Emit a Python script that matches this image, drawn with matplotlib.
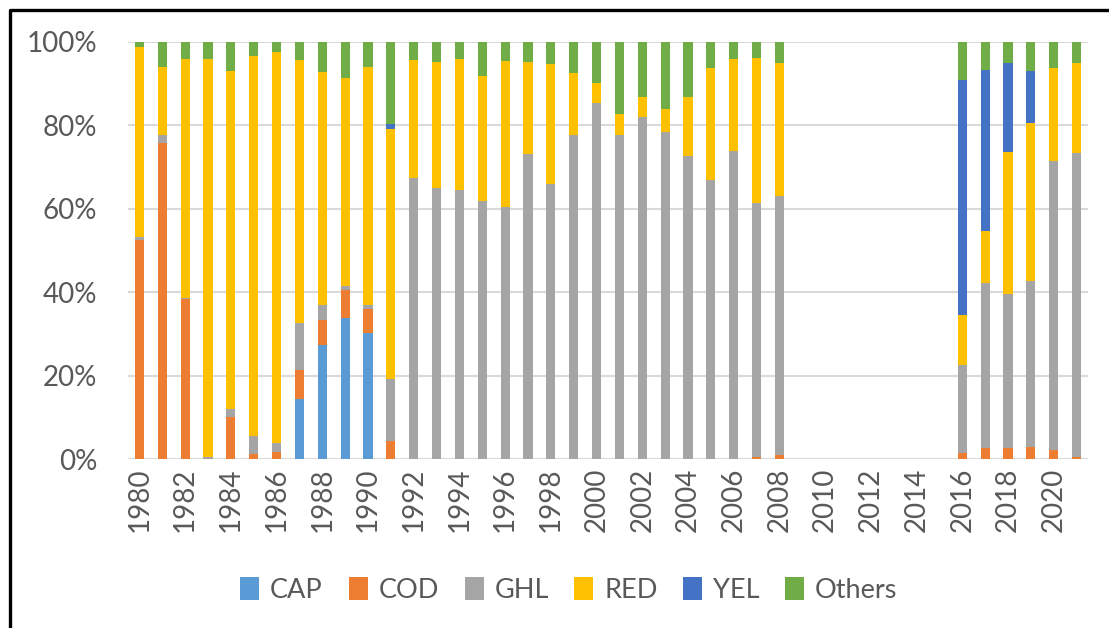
import matplotlib.pyplot as plt
from matplotlib.lines import Line2D
import numpy as np

years = list(range(1980, 2022))

# share of catch per species (%), years 2009-2015 have no data
cap = [0, 0, 0, 0, 0, 0, 0, 14.4, 27.3, 33.8, 30.2, 0,
       0, 0, 0, 0, 0, 0, 0, 0, 0, 0, 0, 0, 0, 0, 0, 0, 0,
       0, 0, 0, 0, 0, 0, 0,
       0, 0, 0, 0, 0, 0]
cod = [52.6, 75.8, 38.4, 0, 10.0, 1.2, 1.6, 6.9, 6.0, 6.7, 5.7, 4.2,
       0, 0, 0, 0, 0, 0, 0, 0, 0, 0, 0, 0, 0, 0, 0, 0.4, 1.0,
       0, 0, 0, 0, 0, 0, 0,
       1.4, 2.6, 2.6, 2.9, 2.1, 0.4]
ghl = [0.6, 2.0, 0.1, 0.4, 2.1, 4.2, 2.2, 11.3, 3.6, 1.1, 1.0, 15.0,
       67.3, 64.9, 64.6, 61.8, 60.4, 73.1, 66.0, 77.7, 85.4, 77.6, 82.0, 78.3,
       72.7, 66.9, 73.8, 60.9, 62.0,
       0, 0, 0, 0, 0, 0, 0,
       21.2, 39.5, 37.0, 39.7, 69.3, 73.1]
red = [45.5, 16.3, 57.4, 95.5, 81.0, 91.3, 93.7, 63.2, 56.0, 49.8, 57.2, 60.0,
       28.3, 30.2, 31.4, 30.1, 35.1, 22.2, 28.7, 14.9, 4.8, 5.2, 4.7, 5.7,
       14.0, 26.9, 22.2, 34.9, 32.0,
       0, 0, 0, 0, 0, 0, 0,
       11.9, 12.5, 34.0, 37.9, 22.3, 21.4]
yel = [0, 0, 0, 0, 0, 0, 0, 0, 0, 0, 0, 1.2,
       0, 0, 0, 0, 0, 0, 0, 0, 0, 0, 0, 0, 0, 0, 0, 0, 0,
       0, 0, 0, 0, 0, 0, 0,
       56.3, 38.6, 21.4, 12.5, 0, 0]
others = [1.3, 5.9, 4.1, 4.1, 6.9, 3.3, 2.5, 4.2, 7.1, 8.6, 5.9, 19.6,
          4.4, 4.9, 4.0, 8.1, 4.5, 4.7, 5.3, 7.4, 9.8, 17.2, 13.3, 16.0,
          13.3, 6.2, 4.0, 3.8, 5.0,
          0, 0, 0, 0, 0, 0, 0,
          9.2, 6.8, 5.0, 7.0, 6.3, 5.1]

series = [("CAP", cap, "#5B9BD5"), ("COD", cod, "#ED7D31"),
          ("GHL", ghl, "#A5A5A5"), ("RED", red, "#FFC000"),
          ("YEL", yel, "#4472C4"), ("Others", others, "#70AD47")]

plt.rcParams['font.family'] = ['Lato', 'DejaVu Sans']
txt = "#595959"

fig = plt.figure(figsize=(11.09, 6.28), dpi=100)
ax = fig.add_axes([128 / 1109, 1 - 459 / 628, 960 / 1109, 417 / 628])

x = np.arange(len(years))
bottom = np.zeros(len(years))
for name, vals, col in series:
    v = np.array(vals) / 100
    ax.bar(x, v, 0.4, bottom=bottom, color=col, label=name,
           edgecolor="none", zorder=3)
    bottom += v

ax.set_xlim(-0.5, len(years) - 0.5)
ax.set_ylim(0, 1)
ax.set_yticks(np.arange(0, 1.01, 0.2))
ax.set_yticklabels([f"{int(round(t * 100))}%" for t in np.arange(0, 1.01, 0.2)])
ax.set_xticks(x[::2])
ax.set_xticklabels([str(y) for y in years[::2]], rotation=90)
ax.tick_params(axis="both", length=0, labelsize=20, colors=txt)
ax.tick_params(axis="y", pad=22)
ax.tick_params(axis="x", pad=6)
ax.grid(axis="y", color="#D9D9D9", linewidth=1.5, zorder=0)
for s in ax.spines.values():
    s.set_visible(False)

fig.legend(loc="center", bbox_to_anchor=(569 / 1109, 1 - 590 / 628), ncol=6,
           frameon=False, fontsize=19.5, labelcolor=txt, handlelength=0.7,
           handleheight=0.95, handletextpad=0.4, columnspacing=0.95)

# black frame on the top and left edge
fig.add_artist(Line2D([9.5 / 1109, 9.5 / 1109, 1], [0, 1 - 9.5 / 628, 1 - 9.5 / 628],
                      transform=fig.transFigure, color="black", linewidth=2.4))

fig.savefig("out.png", dpi=100)
